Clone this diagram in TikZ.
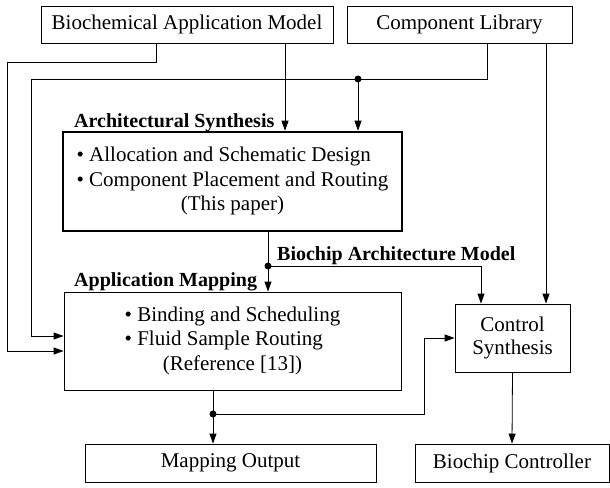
\documentclass[tikz,border=0pt]{standalone}
\usepackage{fontspec}
\setmainfont{Liberation Serif}
\usepackage{tikz}
\usetikzlibrary{arrows.meta}

\tikzset{
  box/.style={draw, line width=0.8pt, inner sep=0pt, align=center,
    font=\fontsize{21}{24.5}\selectfont},
  lbl/.style={inner sep=0pt, anchor=base west, font=\fontsize{20}{24}\selectfont\bfseries},
  arr/.style={-{Triangle[length=10pt,width=7pt]}},
  wire/.style={line width=0.8pt}
}

\begin{document}
\begin{tikzpicture}[x=1pt,y=-1pt]
\useasboundingbox (0,0) rectangle (610,487);
%boxes
\node[box, minimum width=292pt, minimum height=37pt] (bam) at (187,24.5) {Biochemical Application Model};
\node[box, minimum width=225pt, minimum height=37pt] (lib) at (459.5,24.5) {Component Library};
\node[box, line width=2.6pt, minimum width=339pt, minimum height=99pt] (arch) at (232.5,181.5)
  {\begin{tabular}{@{}l@{}}\textbullet~Allocation and Schematic Design\\
   \textbullet~Component Placement and Routing\\
   \multicolumn{1}{@{}c@{}}{(This paper)}\end{tabular}};
\node[box, minimum width=337pt, minimum height=98pt] (app) at (232.5,341)
  {\begin{tabular}{@{}l@{}}\textbullet~Binding and Scheduling\\
   \textbullet~Fluid Sample Routing\\
   \multicolumn{1}{@{}c@{}}{(Reference [13])}\end{tabular}};
\node[box, minimum width=115pt, minimum height=68pt,
  font=\fontsize{21}{23}\selectfont] (ctrl) at (512.5,338) {Control\\Synthesis};
\node[box, minimum width=291pt, minimum height=38pt] (mapout) at (230.5,463) {Mapping Output};
\node[box, minimum width=194pt, minimum height=38pt] (bioctrl) at (512,463) {Biochip Controller};
%labels
\node[lbl] (archlbl) at (74,127) {Architectural Synthesis};
\node[lbl] (biolbl) at (277,260) {Biochip Architecture Model};
\node[lbl] (applbl) at (74,286) {Application Mapping};
%corners
\coordinate (jt) at (358,79);
\coordinate (ja) at (268,266);
\coordinate (jm) at (213,414);
\coordinate (p1) at (156,62);
\coordinate (p2) at (7,62);
\coordinate (p3) at (285,0);
\coordinate (p4) at (487,79);
\coordinate (p5) at (31,79);
\coordinate (p6) at (546,0);
\coordinate (p7) at (481,266);
\coordinate (p8) at (424,414);
%lines
\draw[wire,arr] (bam.south -| p1) -- (p1) -- (p2) |- ([yshift=-10pt]app.west);
\draw[wire,arr] (bam.south -| p3) -- (arch.north -| p3);
\draw[wire] (lib.south -| p4) -- (p4) -- (jt);
\draw[wire,arr] (jt) -- (p5) |- ([yshift=5pt]app.west);
\draw[wire,arr] (jt) -- (arch.north -| jt);
\draw[wire,arr] (lib.south -| p6) -- (ctrl.north -| p6);
\draw[wire] (arch.south -| ja) -- (ja);
\draw[wire,arr] (ja) -- (app.north -| ja);
\draw[wire,arr] (ja) -- (p7) -- (ctrl.north -| p7);
\draw[wire] (app.south -| jm) -- (jm);
\draw[wire,arr] (jm) -- (mapout.north -| jm);
\draw[wire,arr] (jm) -- (p8) |- (ctrl.west);
\draw[wire,arr] (ctrl.south) -- (bioctrl.north);
%dots
\fill (jt) circle (3.5pt);
\fill (ja) circle (3.5pt);
\fill (jm) circle (3.5pt);
\end{tikzpicture}
\end{document}
